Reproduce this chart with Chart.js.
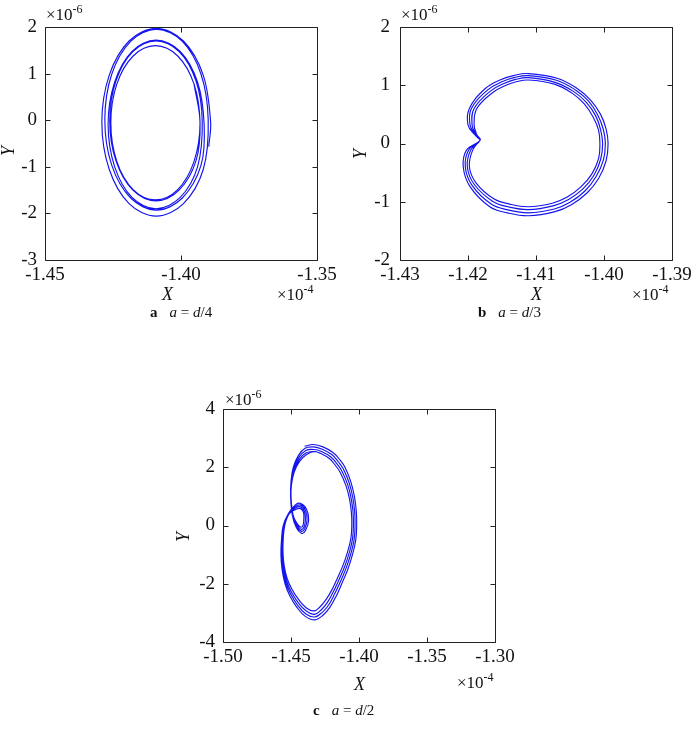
<!DOCTYPE html>
<html><head><meta charset="utf-8">
<script src="https://cdn.jsdelivr.net/npm/chart.js@4"></script>
<style>
body{margin:0;background:#fff;width:700px;height:735px;position:relative;overflow:hidden;font-family:"Liberation Serif","Times New Roman",serif;color:#111}
canvas{position:absolute}
.t{position:absolute;white-space:nowrap;line-height:1}
.m{font-size:17px}
.m span{font-size:12px;position:relative;top:-7px}
.ax{font-size:18px;font-style:italic}
.yl{font-size:18px;font-style:italic;transform:translate(-50%,-50%) rotate(-90deg)}
.cap{font-size:15px}
.cap b{margin-right:12px}
</style></head><body>
<canvas id="ca" width="345" height="300" style="left:0;top:0"></canvas>
<canvas id="cb" width="350" height="300" style="left:350px;top:0"></canvas>
<canvas id="cc" width="350" height="330" style="left:170px;top:360px"></canvas>

<div class="t m" style="left:46px;top:6px">×10<span>-6</span></div>
<div class="t m" style="left:401px;top:6px">×10<span>-6</span></div>
<div class="t m" style="left:225px;top:391px">×10<span>-6</span></div>
<div class="t m" style="left:277px;top:286px">×10<span>-4</span></div>
<div class="t m" style="left:632px;top:286px">×10<span>-4</span></div>
<div class="t m" style="left:457px;top:674px">×10<span>-4</span></div>
<div class="t ax" style="left:162px;top:285px">X</div>
<div class="t ax" style="left:531px;top:285px">X</div>
<div class="t ax" style="left:354px;top:675px">X</div>
<div class="t yl" style="left:8px;top:151px">Y</div>
<div class="t yl" style="left:360px;top:154px">Y</div>
<div class="t yl" style="left:183px;top:537px">Y</div>
<div class="t cap" style="left:150px;top:305px"><b>a</b><i>a</i> = <i>d</i>/4</div>
<div class="t cap" style="left:478px;top:305px"><b>b</b><i>a</i> = <i>d</i>/3</div>
<div class="t cap" style="left:313px;top:703px"><b>c</b><i>a</i> = <i>d</i>/2</div>

<script>
// X in units of 1e-4, Y in units of 1e-6
const aXTicks = [-1.45, -1.40, -1.35];
const aYTicks = [-3, -2, -1, 0, 1, 2];
const bXTicks = [-1.43, -1.42, -1.41, -1.40, -1.39];
const bYTicks = [-2, -1, 0, 1, 2];
const cXTicks = [-1.50, -1.45, -1.40, -1.35, -1.30];
const cYTicks = [-4, -2, 0, 2, 4];

// panel a: a = d/4
const aX = [-1.3898,
 -1.3891,-1.3918,-1.3991,-1.4091,-1.4191,-1.4264,-1.4291,-1.4264,-1.4191,-1.4091,-1.3991,-1.3918,
 -1.3900,-1.3926,-1.3995,-1.4090,-1.4185,-1.4255,-1.4280,-1.4255,-1.4185,-1.4090,-1.3995,-1.3926,
 -1.3915,-1.3939,-1.4003,-1.4092,-1.4180,-1.4244,-1.4268,-1.4244,-1.4180,-1.4092,-1.4003,-1.3939,
 -1.3922,-1.3945,-1.4007,-1.4092,-1.4177,-1.4239,-1.4262,-1.4239,-1.4177,-1.4092,-1.4007,-1.3945,
 -1.3930,-1.3952,-1.4012,-1.4094,-1.4176,-1.4236,-1.4258,-1.4236,-1.4176,-1.4094,-1.4012,-1.3952,-1.3930,-1.3952
];
const aY = [-0.567,
 -0.045,0.963,1.700,1.970,1.700,0.963,-0.045,-1.053,-1.790,-2.060,-1.790,-1.053,
 0.010,0.980,1.690,1.950,1.690,0.980,0.010,-0.960,-1.670,-1.930,-1.670,-0.960,
 -0.090,0.815,1.477,1.720,1.477,0.815,-0.090,-0.995,-1.657,-1.900,-1.657,-0.995,
 -0.015,0.843,1.470,1.700,1.470,0.843,-0.015,-0.873,-1.500,-1.730,-1.500,-0.873,
 -0.055,0.773,1.378,1.600,1.378,0.773,-0.055,-0.883,-1.488,-1.710,-1.488,-0.883,-0.055,0.773
];

// panel b: a = d/3
const bX = [
 -1.4182,-1.4190,-1.4200,-1.4198,-1.4175,-1.4153,-1.4132,-1.4111,-1.4069,-1.4040,-1.4020,-1.4005,-1.3997,-1.3994,
 -1.3997,-1.4008,-1.4025,-1.4048,-1.4072,-1.4111,-1.4142,-1.4168,-1.4197,-1.4207,-1.4202,
 -1.4182,-1.4189,-1.4197,-1.4195,-1.4171,-1.4150,-1.4131,-1.4111,-1.4070,-1.4042,-1.4023,-1.4009,-1.4001,-1.3998,
 -1.4001,-1.4012,-1.4028,-1.4050,-1.4073,-1.4111,-1.4141,-1.4166,-1.4194,-1.4204,-1.4199,
 -1.4182,-1.4188,-1.4194,-1.4191,-1.4167,-1.4147,-1.4130,-1.4111,-1.4072,-1.4045,-1.4026,-1.4012,-1.4005,-1.4002,
 -1.4005,-1.4015,-1.4031,-1.4052,-1.4075,-1.4111,-1.4140,-1.4164,-1.4191,-1.4201,-1.4196,
 -1.4182,-1.4187,-1.4191,-1.4187,-1.4163,-1.4144,-1.4129,-1.4111,-1.4073,-1.4047,-1.4029,-1.4016,-1.4008,-1.4006,
 -1.4008,-1.4018,-1.4034,-1.4054,-1.4076,-1.4111,-1.4139,-1.4162,-1.4188,-1.4198,-1.4193,-1.4182
];
const bY = [
 0.06,0.15,0.32,0.60,0.94,1.09,1.17,1.20,1.12,0.95,0.75,0.50,0.25,0.00,
 -0.30,-0.60,-0.85,-1.05,-1.17,-1.24,-1.19,-1.085,-0.74,-0.40,-0.11,
 0.06,0.15,0.32,0.60,0.92,1.06,1.135,1.165,1.085,0.92,0.73,0.485,0.24,0.00,
 -0.29,-0.575,-0.815,-1.01,-1.125,-1.19,-1.14,-1.04,-0.72,-0.40,-0.11,
 0.06,0.15,0.32,0.60,0.90,1.03,1.10,1.13,1.05,0.895,0.705,0.47,0.235,0.00,
 -0.275,-0.55,-0.78,-0.96,-1.07,-1.135,-1.09,-0.99,-0.70,-0.40,-0.11,
 0.06,0.15,0.32,0.60,0.88,1.00,1.06,1.09,1.02,0.865,0.68,0.455,0.23,0.00,
 -0.26,-0.525,-0.745,-0.92,-1.025,-1.085,-1.04,-0.95,-0.68,-0.40,-0.11,0.06
];

// panel c: a = d/2
const cX = [-1.4400,
 -1.4336,-1.4265,-1.4189,-1.4140,-1.4103,-1.4060,-1.4034,-1.4020,-1.4017,-1.4024,-1.4048,-1.4082,-1.4127,-1.4165,-1.4213,-1.4265,-1.4324,
 -1.4395,-1.4458,-1.4510,-1.4544,-1.4566,-1.4574,-1.4570,-1.4557,-1.4520,
 -1.4470,-1.4432,-1.4386,-1.4370,-1.4393,-1.4421,-1.4461,-1.4490,
 -1.4503,-1.4500,-1.4483,-1.4446,-1.4397,
 -1.4334,-1.4270,-1.4198,-1.4151,-1.4115,-1.4072,-1.4046,-1.4032,-1.4029,-1.4036,-1.4060,-1.4094,-1.4138,-1.4177,-1.4222,-1.4272,-1.4326,
 -1.4393,-1.4454,-1.4505,-1.4539,-1.4561,-1.4569,-1.4565,-1.4553,-1.4518,
 -1.4469,-1.4431,-1.4394,-1.4382,-1.4399,-1.4423,-1.4457,-1.4488,
 -1.4502,-1.4499,-1.4481,-1.4443,-1.4394,
 -1.4332,-1.4275,-1.4207,-1.4162,-1.4127,-1.4084,-1.4058,-1.4044,-1.4041,-1.4048,-1.4072,-1.4105,-1.4149,-1.4187,-1.4231,-1.4279,-1.4328,
 -1.4390,-1.4450,-1.4500,-1.4534,-1.4556,-1.4564,-1.4561,-1.4549,-1.4516,
 -1.4468,-1.4430,-1.4401,-1.4394,-1.4405,-1.4425,-1.4454,-1.4486,
 -1.4501,-1.4498,-1.4479,-1.4440,-1.4391,
 -1.4330,-1.4280,-1.4216,-1.4173,-1.4139,-1.4096,-1.4070,-1.4056,-1.4053,-1.4060,-1.4084,-1.4117,-1.4159,-1.4196,-1.4240,-1.4286,-1.4330,
 -1.4387,-1.4446,-1.4495,-1.4529,-1.4551,-1.4559,-1.4557,-1.4546,-1.4514,
 -1.4467,-1.4429,-1.4408,-1.4406,-1.4412,-1.4427,-1.4451,-1.4484,
 -1.4500,-1.4497,-1.4477,-1.4437,-1.4388,-1.4330,-1.4280
];
const cY = [2.72,
 2.78,2.70,2.50,2.25,2.00,1.50,1.00,0.50,0.00,-0.50,-1.00,-1.50,-2.00,-2.40,-2.80,-3.08,-3.24,
 -3.12,-2.80,-2.40,-2.00,-1.50,-1.00,-0.50,0.00,0.40,
 0.70,0.76,0.56,0.19,-0.17,-0.27,-0.07,0.35,
 1.00,1.50,2.00,2.40,2.65,
 2.70,2.62,2.43,2.18,1.94,1.46,0.97,0.485,0.00,-0.485,-0.97,-1.455,-1.94,-2.33,-2.72,-2.99,-3.14,
 -3.03,-2.72,-2.33,-1.94,-1.455,-0.97,-0.485,0.00,0.40,
 0.65,0.70,0.52,0.19,-0.11,-0.20,-0.03,0.35,
 1.00,1.46,1.94,2.33,2.57,
 2.61,2.54,2.35,2.115,1.88,1.41,0.94,0.47,0.00,-0.47,-0.94,-1.41,-1.88,-2.26,-2.63,-2.90,-3.05,
 -2.93,-2.63,-2.26,-1.88,-1.41,-0.94,-0.47,0.00,0.40,
 0.60,0.64,0.48,0.20,-0.06,-0.13,0.00,0.35,
 1.00,1.42,1.88,2.26,2.49,
 2.54,2.47,2.29,2.06,1.83,1.37,0.915,0.46,0.00,-0.45,-0.905,-1.36,-1.81,-2.18,-2.53,-2.79,-2.93,
 -2.83,-2.53,-2.17,-1.81,-1.36,-0.905,-0.45,0.00,0.40,
 0.55,0.58,0.44,0.21,0.00,-0.06,0.04,0.35,
 1.00,1.38,1.83,2.20,2.43,2.54,2.47
];

const BLUE = 'rgb(20,20,238)';
const TEXT = '#111';

const frame = {
  id: 'frame',
  afterDatasetsDraw(chart) {
    const {ctx, chartArea: a} = chart;
    const x = chart.scales.x, y = chart.scales.y;
    const L = Math.round(a.left) + 0.5, R = Math.round(a.right) + 0.5;
    const T = Math.round(a.top) + 0.5, B = Math.round(a.bottom) + 0.5;
    ctx.save();
    ctx.strokeStyle = '#222';
    ctx.lineWidth = 1;
    ctx.beginPath();
    ctx.rect(L, T, R - L, B - T);
    x.ticks.forEach(t => {
      const p = Math.round(x.getPixelForValue(t.value)) + 0.5;
      ctx.moveTo(p, B); ctx.lineTo(p, B - 5);
      ctx.moveTo(p, T); ctx.lineTo(p, T + 5);
    });
    y.ticks.forEach(t => {
      const p = Math.round(y.getPixelForValue(t.value)) + 0.5;
      ctx.moveTo(L, p); ctx.lineTo(L + 5, p);
      ctx.moveTo(R, p); ctx.lineTo(R - 5, p);
    });
    ctx.stroke();
    ctx.restore();
  }
};

function makeChart(id, xs, ys, xt, yt, g) {
  const pts = xs.map((v, i) => ({x: v, y: ys[i]}));
  new Chart(document.getElementById(id), {
    type: 'scatter',
    data: { datasets: [{ data: pts, showLine: true, borderColor: BLUE, borderWidth: 1.15,
      pointRadius: 0, pointHoverRadius: 0, tension: g.tension, fill: false }] },
    options: {
      responsive: false, animation: false, events: [],
      layout: { padding: { left: 0, top: g.top, right: g.right, bottom: 0 } },
      plugins: { legend: { display: false }, tooltip: { enabled: false } },
      scales: {
        x: {
          type: 'linear', min: xt[0], max: xt[xt.length - 1],
          grid: { display: false, drawTicks: false }, border: { display: false },
          afterBuildTicks: s => { s.ticks = xt.map(v => ({value: v})); },
          afterFit: s => { s.height = g.xh; },
          ticks: { color: TEXT, font: { family: 'Liberation Serif', size: 19 }, padding: 4,
            maxRotation: 0, autoSkip: false, callback: v => Number(v).toFixed(2) }
        },
        y: {
          type: 'linear', min: yt[0], max: yt[yt.length - 1],
          grid: { display: false, drawTicks: false }, border: { display: false },
          afterBuildTicks: s => { s.ticks = yt.map(v => ({value: v})); },
          afterFit: s => { s.width = g.yw; },
          ticks: { color: TEXT, font: { family: 'Liberation Serif', size: 19 }, padding: g.ypad,
            autoSkip: false, callback: v => String(v) }
        }
      }
    },
    plugins: [frame]
  });
}

makeChart('ca', aX, aY, aXTicks, aYTicks, { top: 27, right: 28, xh: 40, yw: 45, ypad: 8, tension: 0.35 });
makeChart('cb', bX, bY, bXTicks, bYTicks, { top: 27, right: 28, xh: 40, yw: 50, ypad: 10, tension: 0.4 });
makeChart('cc', cX, cY, cXTicks, cYTicks, { top: 49, right: 25, xh: 48, yw: 53, ypad: 8, tension: 0.4 });
</script>
</body></html>
